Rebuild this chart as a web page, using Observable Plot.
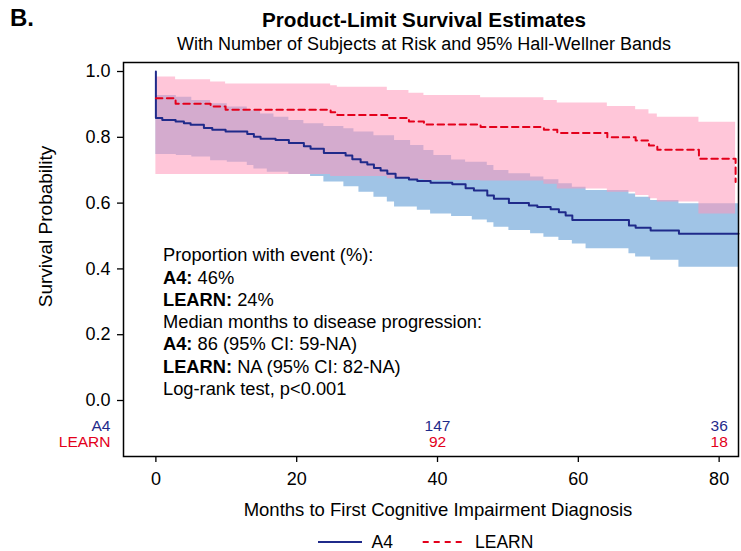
<!DOCTYPE html>
<html><head><meta charset="utf-8">
<script src="https://cdn.jsdelivr.net/npm/d3@7"></script>
<script src="https://cdn.jsdelivr.net/npm/@observablehq/plot@0.6"></script>
<style>
body{margin:0;background:#fff}
#wrap{position:relative;width:741px;height:551px;font-family:"Liberation Sans",Arial,sans-serif;color:#000;background:#fff;overflow:hidden}
.abs{position:absolute;white-space:nowrap}
</style></head><body>
<div id="wrap">
<div class="abs" style="left:10px;top:6px;font-size:24px;font-weight:bold;line-height:24px">B.</div>
<div class="abs" style="left:124px;width:600px;text-align:center;top:9.5px;font-size:20.7px;font-weight:bold;line-height:20.7px">Product-Limit Survival Estimates</div>
<div class="abs" style="left:124px;width:600px;text-align:center;top:35.3px;font-size:18px;line-height:18px">With Number of Subjects at Risk and 95% Hall-Wellner Bands</div>
<div id="chart" class="abs" style="left:0;top:55px"></div>
<div id="stats" class="abs" style="left:163px;top:244.3px;font-size:18.3px;line-height:22.3px"></div>
<div id="legend" class="abs" style="left:0;top:525px"></div>
</div>
<script>
// ---- data ----
const groups = ["A4", "LEARN"];

const a4Time = [0, 0, 0.91, 2.80, 3.98, 4.93, 6.82, 8.01, 9.90, 12.98, 13.92, 14.87, 17.00, 18.89, 21.02, 21.97, 23.86, 26.95, 27.90, 29.08, 30.03, 30.97, 31.92, 32.87, 34.05, 35.94, 37.13, 39.02, 42.10, 43.99, 45.17, 47.07, 48.01, 50.14, 52.98, 54.18, 56.07, 57.24, 58.20, 59.15, 67.19, 68.14, 70.27, 74.29, 82.75];
const a4Surv = [1.000, 0.859, 0.853, 0.848, 0.843, 0.838, 0.828, 0.823, 0.818, 0.810, 0.802, 0.796, 0.792, 0.783, 0.773, 0.765, 0.752, 0.745, 0.733, 0.724, 0.717, 0.707, 0.699, 0.689, 0.677, 0.672, 0.667, 0.662, 0.657, 0.645, 0.638, 0.623, 0.613, 0.600, 0.593, 0.588, 0.581, 0.572, 0.562, 0.549, 0.532, 0.525, 0.517, 0.507, 0.507];

const learnTime = [0, 2.80, 7.77, 9.90, 24.82, 25.77, 32.87, 35.94, 38.07, 46.12, 55.11, 57.01, 64.12, 68.14, 70.03, 71.22, 77.13, 82.34];
const learnSurv = [0.919, 0.902, 0.894, 0.884, 0.876, 0.868, 0.859, 0.848, 0.839, 0.831, 0.823, 0.813, 0.800, 0.790, 0.775, 0.762, 0.735, 0.664];

const a4BandTime = [0, 2.9, 5.1, 7.77, 10.14, 12.98, 13.92, 14.87, 15.82, 16.77, 18.89, 21.02, 21.97, 23.86, 26.7, 28.13, 28.84, 30.97, 32.87, 33.9, 36.18, 37.13, 38.07, 39.02, 39.49, 42.0, 43.99, 44.94, 47.07, 48.01, 50.14, 53.22, 55.11, 57.24, 59.15, 61.1, 67.19, 68.14, 70.27, 74.29, 82.75];
const a4Lower = [0.748, 0.745, 0.740, 0.729, 0.724, 0.714, 0.704, 0.704, 0.694, 0.694, 0.687, 0.687, 0.681, 0.664, 0.650, 0.650, 0.633, 0.618, 0.603, 0.588, 0.588, 0.578, 0.578, 0.567, 0.567, 0.559, 0.559, 0.549, 0.540, 0.527, 0.517, 0.507, 0.496, 0.486, 0.476, 0.461, 0.446, 0.436, 0.426, 0.405, 0.405];
const a4Upper = [0.927, 0.922, 0.912, 0.902, 0.892, 0.881, 0.881, 0.871, 0.871, 0.861, 0.851, 0.841, 0.841, 0.833, 0.826, 0.816, 0.816, 0.805, 0.805, 0.790, 0.775, 0.775, 0.760, 0.760, 0.745, 0.731, 0.724, 0.724, 0.714, 0.699, 0.689, 0.679, 0.671, 0.659, 0.648, 0.638, 0.628, 0.618, 0.608, 0.598, 0.598];

const learnBandTime = [0, 2.80, 7.77, 9.90, 24.82, 25.77, 32.87, 35.94, 38.07, 46.12, 55.11, 57.01, 64.12, 68.14, 70.03, 71.22, 77.13, 82.34];
const learnLower = [0.687, 0.687, 0.687, 0.687, 0.681, 0.681, 0.674, 0.672, 0.669, 0.667, 0.657, 0.643, 0.633, 0.623, 0.613, 0.603, 0.567, 0.567];
const learnUpper = [0.983, 0.975, 0.968, 0.962, 0.957, 0.952, 0.942, 0.934, 0.927, 0.920, 0.912, 0.904, 0.894, 0.884, 0.871, 0.861, 0.846, 0.846];

const riskTimes = [40, 80];
const riskA4 = ["147", "36"];
const riskLearn = ["92", "18"];

const xTicks = [0, 20, 40, 60, 80];
const yTicks = [0, 0.2, 0.4, 0.6, 0.8, 1.0];

const statBold = ["", "A4:", "LEARN:", "", "A4:", "LEARN:", ""];
const statText = ["Proportion with event (%):", " 46%", " 24%", "Median months to disease progression:", " 86 (95% CI: 59-NA)", " NA (95% CI: 82-NA)", "Log-rank test, p<0.001"];

const xTitle = "Months to First Cognitive Impairment Diagnosis";
const yTitle = "Survival Probability";

// ---- build ----
const BLUE = "#1f2a8a", RED = "#e3001b";
const a4 = a4Time.map((t, i) => ({t, s: a4Surv[i]}));
const learn = learnTime.map((t, i) => ({t, s: learnSurv[i]}));
const a4Band = a4BandTime.map((t, i) => ({t, lo: a4Lower[i], hi: a4Upper[i]}));
const learnBand = learnBandTime.map((t, i) => ({t, lo: learnLower[i], hi: learnUpper[i]}));
const rA4 = riskTimes.map((t, i) => ({t, n: riskA4[i]}));
const rLearn = riskTimes.map((t, i) => ({t, n: riskLearn[i]}));

const chart = Plot.plot({
  width: 741, height: 470,
  marginTop: 7, marginBottom: 69, marginLeft: 123, marginRight: 3,
  style: {fontFamily: "'Liberation Sans', Arial, sans-serif", fontSize: "18px", background: "white", color: "black", overflow: "visible"},
  x: {domain: [-4.6, 82.75]},
  y: {domain: [-0.1702, 1.0274]},
  marks: [
    Plot.areaY(a4Band, {x: "t", y1: "lo", y2: "hi", curve: "step-after", fill: "#a0c4e6"}),
    Plot.areaY(learnBand, {x: "t", y1: "lo", y2: "hi", curve: "step-after", fill: "#ff97ba", fillOpacity: 0.55}),
    Plot.line(a4, {x: "t", y: "s", curve: "step-after", stroke: BLUE, strokeWidth: 2}),
    Plot.line(learn, {x: "t", y: "s", curve: "step-after", stroke: RED, strokeWidth: 2, strokeDasharray: "6.5,4.5"}),
    Plot.axisY({ticks: yTicks, tickFormat: d3.format(".1f"), tickSize: 6, tickPadding: 7, label: null, strokeWidth: 1.3}),
    Plot.axisX({ticks: xTicks, tickSize: 6, tickPadding: 10, label: null, strokeWidth: 1.3}),
    Plot.text(rA4, {x: "t", text: "n", frameAnchor: "bottom", lineAnchor: "middle", textAnchor: "middle", dy: -30, fill: BLUE, fontSize: 15.5}),
    Plot.text(rLearn, {x: "t", text: "n", frameAnchor: "bottom", lineAnchor: "middle", textAnchor: "middle", dy: -14, fill: RED, fontSize: 15.5}),
    Plot.text([groups[0]], {text: d => d, frameAnchor: "bottom-left", lineAnchor: "middle", dx: -13, dy: -30, textAnchor: "end", fill: BLUE, fontSize: 15.5}),
    Plot.text([groups[1]], {text: d => d, frameAnchor: "bottom-left", lineAnchor: "middle", dx: -13, dy: -14, textAnchor: "end", fill: RED, fontSize: 15.5}),
    Plot.text([yTitle], {text: d => d, frameAnchor: "left", rotate: -90, textAnchor: "middle", lineAnchor: "middle", dx: -78, dy: -33, fontSize: 19}),
    Plot.text([xTitle], {text: d => d, frameAnchor: "bottom", textAnchor: "middle", lineAnchor: "middle", dx: 7, dy: 54, fontSize: 18.5}),
    Plot.frame({stroke: "black", strokeWidth: 1.5})
  ]
});
document.getElementById("chart").appendChild(chart);

const stats = document.getElementById("stats");
statText.forEach((t, i) => {
  const div = document.createElement("div");
  if (statBold[i]) {
    const b = document.createElement("b");
    b.textContent = statBold[i];
    div.appendChild(b);
  }
  div.appendChild(document.createTextNode(t));
  stats.appendChild(div);
});

// legend
const ns = "http://www.w3.org/2000/svg";
const lg = document.createElementNS(ns, "svg");
lg.setAttribute("width", 741); lg.setAttribute("height", 26);
const items = [
  {x1: 318, x2: 362, tx: 371.5, color: BLUE, dash: null, label: groups[0]},
  {x1: 422.7, x2: 463.3, tx: 475, color: RED, dash: "6,5", label: groups[1]}
];
items.forEach(it => {
  const l = document.createElementNS(ns, "line");
  l.setAttribute("x1", it.x1); l.setAttribute("x2", it.x2);
  l.setAttribute("y1", 17); l.setAttribute("y2", 17);
  l.setAttribute("stroke", it.color); l.setAttribute("stroke-width", 2);
  if (it.dash) l.setAttribute("stroke-dasharray", it.dash);
  lg.appendChild(l);
  const t = document.createElementNS(ns, "text");
  t.setAttribute("x", it.tx); t.setAttribute("y", 22.5);
  t.setAttribute("font-size", "17.5px");
  t.setAttribute("font-family", "'Liberation Sans', Arial, sans-serif");
  t.textContent = it.label;
  lg.appendChild(t);
});
document.getElementById("legend").appendChild(lg);
</script>
</body></html>
